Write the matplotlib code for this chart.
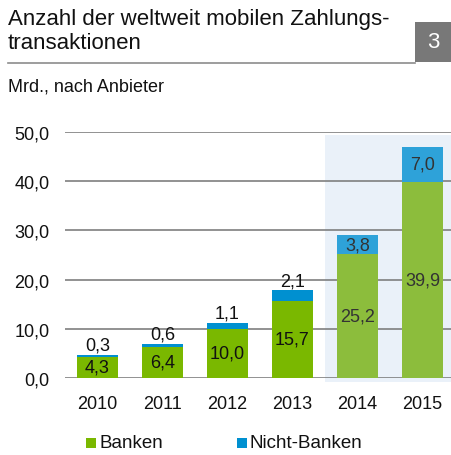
import matplotlib.pyplot as plt
from matplotlib.patches import Rectangle

plt.rcParams['font.family'] = ['Liberation Sans', 'DejaVu Sans']

years = ['2010', '2011', '2012', '2013', '2014', '2015']
banken = [4.3, 6.4, 10.0, 15.7, 25.2, 39.9]
nicht_banken = [0.3, 0.6, 1.1, 2.1, 3.8, 7.0]
forecast = [False, False, False, False, True, True]
yticks = [0, 10, 20, 30, 40, 50]

green_hist, green_fc = '#7ab800', '#8cbd3c'
blue_hist, blue_fc = '#0090d0', '#2ea2d9'


def fmt(v):
    return f'{v:.1f}'.replace('.', ',')


fig = plt.figure(figsize=(4.52, 4.56), dpi=100)
ax = fig.add_axes([65 / 452, 77 / 456, 386.75 / 452, 246 / 456])

x = list(range(len(years)))
w = 0.63

# shaded forecast area
ax.add_patch(Rectangle((3.5, -0.8), 2.0, 50.2, facecolor='#eaf1f9',
                       edgecolor='none', zorder=0, clip_on=False))

for y in yticks:
    ax.axhline(y, color='#7f7f7f', lw=1.2, zorder=1)

for i in x:
    gc = green_fc if forecast[i] else green_hist
    bc = blue_fc if forecast[i] else blue_hist
    ax.bar(i, banken[i], w, color=gc, zorder=2)
    ax.bar(i, nicht_banken[i], w, bottom=banken[i], color=bc, zorder=2)
    if forecast[i]:
        tc = '#333333'
        ax.text(i, banken[i] / 2, fmt(banken[i]), ha='center', va='center',
                fontsize=13, color=tc, zorder=3)
        ax.text(i, banken[i] + nicht_banken[i] / 2, fmt(nicht_banken[i]),
                ha='center', va='center', fontsize=13, color=tc, zorder=3)
    else:
        tc = '#111111'
        ax.text(i, banken[i] / 2, fmt(banken[i]), ha='center', va='center',
                fontsize=13, color=tc, zorder=3)
        ax.annotate(fmt(nicht_banken[i]), (i, banken[i] + nicht_banken[i]),
                    xytext=(0, 1), textcoords='offset points', ha='center',
                    va='bottom', fontsize=13, color=tc, zorder=3)

ax.set_xlim(-0.5, 5.45)
ax.set_ylim(0, 50)
ax.set_xticks(x)
ax.set_xticklabels(years, fontsize=13, color='#111111')
ax.set_yticks(yticks)
ax.set_yticklabels([fmt(v) for v in yticks], fontsize=13, color='#111111')
ax.tick_params(length=0)
ax.tick_params(axis='x', pad=12)
ax.tick_params(axis='y', pad=11)
for s in ax.spines.values():
    s.set_visible(False)

# header
fig.text(8 / 452, 1 - 9 / 456, 'Anzahl der weltweit mobilen Zahlungs-\ntransaktionen',
         ha='left', va='top', fontsize=16, color='#111111', linespacing=1.2)
fig.add_artist(plt.Line2D([8 / 452, 415 / 452], [1 - 63.5 / 456, 1 - 63.5 / 456],
                          color='#8c8c8c', lw=1.2))
fig.add_artist(Rectangle((415 / 452, 1 - 63 / 456), 37 / 452, 40 / 456,
                         transform=fig.transFigure, facecolor='#787878',
                         edgecolor='none'))
fig.text(433.5 / 452, 1 - 43 / 456, '3', ha='center', va='center',
         fontsize=16, color='white')
fig.text(8 / 452, 1 - 87 / 456, 'Mrd., nach Anbieter', ha='left', va='center',
         fontsize=13, color='#111111')

# legend
fig.add_artist(Rectangle((86 / 452, 1 - 449 / 456), 10 / 452, 10 / 456,
                         transform=fig.transFigure, facecolor=green_hist,
                         edgecolor='none'))
fig.text(100 / 452, 1 - 444 / 456, 'Banken', ha='left', va='center',
         fontsize=13.5, color='#111111')
fig.add_artist(Rectangle((237 / 452, 1 - 449 / 456), 10 / 452, 10 / 456,
                         transform=fig.transFigure, facecolor=blue_hist,
                         edgecolor='none'))
fig.text(250 / 452, 1 - 444 / 456, 'Nicht-Banken', ha='left', va='center',
         fontsize=13.5, color='#111111')

fig.savefig('out.png', dpi=100)
